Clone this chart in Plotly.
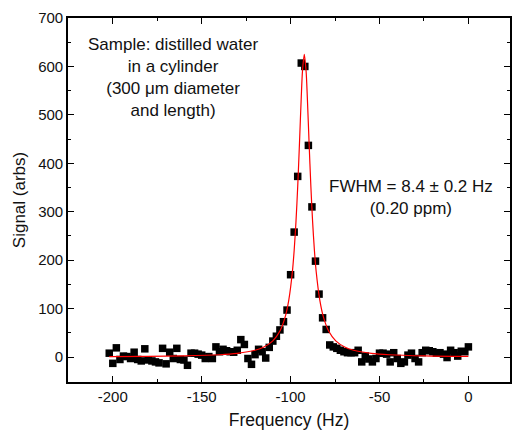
import plotly.graph_objects as go

# Measured signal: frequency (Hz) and signal (arbs)
freq = [-202, -200, -198, -196, -194, -192, -190, -188, -186, -184,
        -182, -180, -178, -176, -174, -172, -170, -168, -166, -164,
        -162, -160, -158, -156, -154, -152, -150, -148, -146, -144,
        -142, -140, -138, -136, -134, -132, -130, -128, -126, -124,
        -122, -120, -118, -116, -114, -112, -110, -108, -106, -104,
        -102, -100, -98, -96, -94, -92, -90, -88, -86, -84,
        -82, -80, -78, -76, -74, -72, -70, -68, -66, -64,
        -62, -60, -58, -56, -54, -52, -50, -48, -46, -44,
        -42, -40, -38, -36, -34, -32, -30, -28, -26, -24,
        -22, -20, -18, -16, -14, -12, -10, -8, -6, -4,
        -2, 0]
signal = [8, -13, 19, -5, 2, 1, -3, 10, -5, -8,
          17, -6, -8, -10, -12, 18, -14, 10, -3, 18,
          -5, -6, -17, 8, 8, 6, 4, -3, 1, -3,
          21, 11, 16, 13, 11, 10, 14, 36, 26, -3,
          -15, 5, 16, 11, -2, 20, 33, 43, 56, 73,
          97, 170, 258, 373, 607, 600, 437, 310, 198, 130,
          81, 57, 25, 21, 18, 14, 11, 9, 9, 9,
          14, -10, 2, -4, -10, -3, 8, 8, 6, -10,
          9, -3, -13, -10, 4, 8, -3, -10, 9, 14,
          13, 11, 8, 9, 6, -1, 14, 9, 2, 12,
          11, 21]

# Lorentzian fit curve
fit_freq = [-202, -180, -160, -140, -130, -120, -115, -110, -106, -103,
            -101, -99, -98, -97, -96, -95, -94, -93.3, -92.3, -91.3,
            -90.6, -89.6, -88.6, -87.6, -86.6, -85.6, -83.6, -81.6, -78.6, -74.6,
            -69.6, -64.6, -54.6, -44.6, -24.6, 0]
fit_signal = [0.9, 1.4, 2.4, 4.8, 7.7, 14.0, 20.7, 33.3, 53.7, 83.4,
              118, 176, 220, 278, 352, 442, 537, 591, 625, 591,
              537, 442, 352, 278, 220, 176, 118, 83.4, 53.7, 33.3,
              20.7, 14.0, 7.7, 4.8, 2.4, 1.3]

x_ticks = [-200, -150, -100, -50, 0]
y_ticks = [0, 100, 200, 300, 400, 500, 600, 700]

FONT = "Liberation Sans, Arial, sans-serif"

W, H = 513, 431
ML, MR, MT, MB = 68, 1, 18, 49

fig = go.Figure()
fig.add_trace(go.Scatter(
    x=freq, y=signal, mode="markers",
    marker=dict(symbol="square", size=7.5, color="black"),
    showlegend=False))
fig.add_trace(go.Scatter(
    x=fit_freq, y=fit_signal, mode="lines",
    line=dict(color="red", width=1.2, shape="spline", smoothing=0.8),
    showlegend=False))

axis_common = dict(
    showgrid=False, zeroline=False, showline=True, linecolor="black", linewidth=1.6,
    mirror="ticks", ticks="inside", ticklen=6, tickwidth=1.2, tickcolor="black",
    tickfont=dict(family=FONT, size=15, color="#111"),
)

fig.update_xaxes(
    range=[-225.2, 23.4], tickvals=x_ticks, ticktext=[str(v) for v in x_ticks],
    minor=dict(ticks="inside", ticklen=3, tickwidth=1, tickcolor="black", dtick=25, tick0=0),
    title=dict(text="Frequency (Hz)", font=dict(family=FONT, size=17.5, color="#111"), standoff=10),
    **axis_common)
fig.update_yaxes(
    range=[-51.5, 700], tickvals=y_ticks, ticktext=[str(v) for v in y_ticks],
    minor=dict(ticks="inside", ticklen=3, tickwidth=1, tickcolor="black", dtick=50, tick0=0),
    title=dict(text="Signal (arbs)", font=dict(family=FONT, size=17, color="#111"), standoff=8),
    **axis_common)

pw, ph = W - ML - MR, H - MT - MB
def to_paper(px, py):
    return (px - ML) / pw, (H - MB - py) / ph

ax0, ay0 = to_paper(173, 78)
ax1, ay1 = to_paper(413, 197)
fig.add_annotation(
    x=ax0, y=ay0, xref="paper", yref="paper", showarrow=False,
    xanchor="center", yanchor="middle",
    text="Sample: distilled water<br>in a cylinder<br>(300 μm diameter<br>and length)",
    font=dict(family=FONT, size=17, color="#111"), align="center")
fig.add_annotation(
    x=ax1, y=ay1, xref="paper", yref="paper", showarrow=False,
    xanchor="center", yanchor="middle",
    text="FWHM = 8.4 ± 0.2 Hz<br>(0.20 ppm)",
    font=dict(family=FONT, size=17, color="#111"), align="center")

fig.update_layout(
    width=W, height=H,
    margin=dict(l=ML, r=MR, t=MT, b=MB),
    paper_bgcolor="white", plot_bgcolor="white",
    font=dict(family=FONT),
)

fig.write_html("out.html")
